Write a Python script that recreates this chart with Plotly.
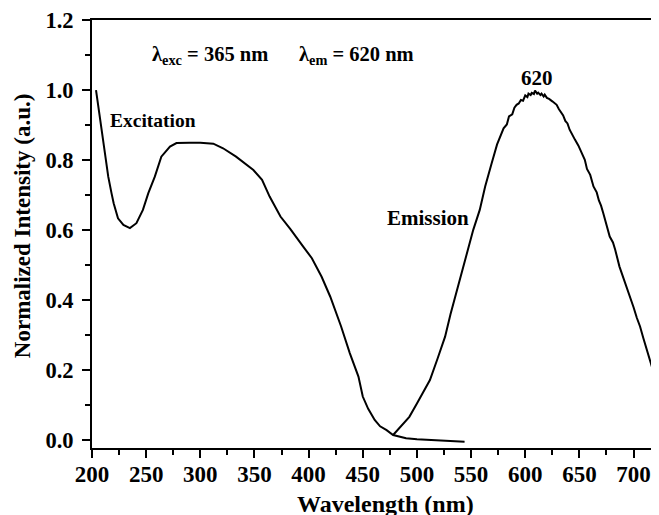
import plotly.graph_objects as go

# Excitation spectrum (monitored at 620 nm)
exc_wavelength = [203.7, 207.4, 212, 215, 218, 220, 224, 229, 235, 241, 247, 252, 258, 264,
                  272, 278, 290, 300, 312, 321, 333, 349, 357, 364, 374, 383, 395, 403, 412,
                  420, 430, 438, 446, 450, 455, 461, 466, 472, 478, 484, 490, 500, 512, 525,
                  535, 544]
exc_intensity = [1.000, 0.915, 0.820, 0.753, 0.706, 0.677, 0.634, 0.615, 0.606, 0.620, 0.658,
                 0.706, 0.753, 0.810, 0.839, 0.849, 0.850, 0.850, 0.847, 0.834, 0.810, 0.772,
                 0.744, 0.696, 0.639, 0.604, 0.553, 0.520, 0.467, 0.410, 0.325, 0.249, 0.182,
                 0.125, 0.090, 0.058, 0.040, 0.029, 0.015, 0.010, 0.006, 0.003, 0.001, -0.002,
                 -0.003, -0.004]

# Emission spectrum (excited at 365 nm)
em_wavelength = [478, 485, 493, 500, 507, 512, 519, 526, 531, 537, 541, 546, 552, 558, 563,
                 569, 574, 580, 583, 585, 588, 590, 592, 594, 596, 598, 600, 602, 603, 605,
                 606, 608, 609, 611, 612, 614, 615, 617, 618, 620, 622, 625, 627, 629, 631,
                 633, 635, 637, 639, 641, 644, 646, 649, 652, 655, 657, 660, 663, 666, 668,
                 670, 672, 675, 678, 681, 683, 687, 690, 693, 697, 700, 703, 706, 709, 712,
                 715, 718, 721, 723, 725]
em_intensity = [0.015, 0.038, 0.067, 0.105, 0.143, 0.172, 0.233, 0.296, 0.360, 0.429, 0.475,
                0.525, 0.601, 0.658, 0.725, 0.791, 0.845, 0.891, 0.902, 0.925, 0.931, 0.950,
                0.958, 0.962, 0.972, 0.970, 0.985, 0.980, 0.990, 0.986, 0.992, 0.989, 0.999,
                0.990, 0.993, 0.986, 0.990, 0.982, 0.987, 0.978, 0.975, 0.968, 0.962, 0.958,
                0.946, 0.935, 0.928, 0.912, 0.905, 0.887, 0.872, 0.858, 0.842, 0.820, 0.801,
                0.775, 0.758, 0.725, 0.708, 0.685, 0.670, 0.649, 0.615, 0.582, 0.565, 0.545,
                0.496, 0.470, 0.440, 0.405, 0.380, 0.350, 0.325, 0.292, 0.262, 0.232, 0.200,
                0.168, 0.144, 0.135]

x_ticks = [200, 250, 300, 350, 400, 450, 500, 550, 600, 650, 700]
y_ticks = [0.0, 0.2, 0.4, 0.6, 0.8, 1.0, 1.2]

FONT = "Liberation Serif, Times New Roman, serif"

fig = go.Figure()
fig.add_trace(go.Scatter(x=exc_wavelength, y=exc_intensity, mode="lines",
                         line=dict(color="black", width=2), showlegend=False))
fig.add_trace(go.Scatter(x=em_wavelength, y=em_intensity, mode="lines",
                         line=dict(color="black", width=2), showlegend=False))

def f(size):
    return dict(family=FONT, size=size, color="black")

# positions below are page pixels (window 659x515)
fig.add_annotation(x=150, y=55, text="<b>λ<sub>exc</sub> = 365 nm</b>", font=f(20.5),
                   xanchor="left", yanchor="middle")
fig.add_annotation(x=297, y=55, text="<b>λ<sub>em</sub> = 620 nm</b>", font=f(20.5),
                   xanchor="left", yanchor="middle")
fig.add_annotation(x=108, y=120, text="<b>Excitation</b>", font=f(19.5),
                   xanchor="left", yanchor="middle")
fig.add_annotation(x=385, y=218, text="<b>Emission</b>", font=f(21),
                   xanchor="left", yanchor="middle")
fig.add_annotation(x=537, y=78, text="<b>620</b>", font=f(21),
                   xanchor="center", yanchor="middle")
fig.add_annotation(x=385, y=504, text="<b>Wavelength (nm)</b>", font=f(24),
                   xanchor="center", yanchor="middle")
fig.add_annotation(x=22, y=226, text="<b>Normalized Intensity (a.u.)</b>", textangle=-90,
                   font=f(23), xanchor="center", yanchor="middle")

OFF = 8  # default page body margin of the html page
W, H = 659 - OFF, 515 - OFF
L, T = 92 - OFF, 20 - OFF
R = 0
B = H - (447.7 - OFF)
pw, ph = W - L - R, H - T - B
# convert page-pixel annotation positions to paper coordinates
for a in fig.layout.annotations:
    a.xref = "paper"
    a.yref = "paper"
    a.showarrow = False
    a.x = (a.x - OFF - L) / pw
    a.y = 1 - (a.y - OFF - T) / ph

fig.update_layout(
    width=W, height=H,
    margin=dict(l=L, r=R, t=T, b=B, autoexpand=False),
    paper_bgcolor="white", plot_bgcolor="white",
    font=dict(family=FONT, color="black"),
    xaxis=dict(range=[200, 723.5], tickvals=x_ticks, ticktext=[f"<b>{v}</b>" for v in x_ticks],
               ticks="outside", ticklen=8, tickwidth=2, tickcolor="black",
               minor=dict(dtick=25, ticks="outside", ticklen=5, tickwidth=2, tickcolor="black"),
               showline=True, linewidth=2, linecolor="black", mirror=True,
               showgrid=False, zeroline=False, automargin=False, ticklabelstandoff=-4,
               ticklabeloverflow="allow", tickfont=f(23)),
    yaxis=dict(range=[-0.022, 1.2003], tickvals=y_ticks,
               ticktext=[f"<b>{v:.1f}</b>" for v in y_ticks],
               ticks="outside", ticklen=8, tickwidth=2, tickcolor="black",
               minor=dict(dtick=0.1, ticks="outside", ticklen=5, tickwidth=2, tickcolor="black"),
               showline=True, linewidth=2, linecolor="black", mirror=False,
               showgrid=False, zeroline=False, ticklabelstandoff=4, automargin=False,
               ticklabeloverflow="allow", tickfont=f(22.5)),
)

fig.write_html("out.html")
